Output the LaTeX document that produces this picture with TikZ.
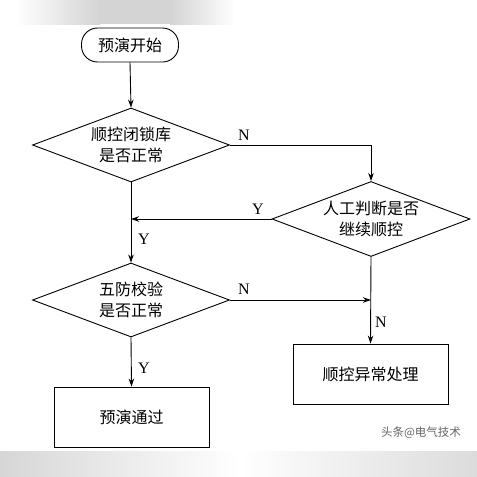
\documentclass[tikz,border=0pt]{standalone}
\usepackage{fontspec}
\setmainfont{Liberation Serif}
\newfontfamily\cjk{Noto Sans CJK SC}
\usetikzlibrary{shapes.geometric,arrows.meta}
\begin{document}
\begin{tikzpicture}[x=1pt,y=-1pt,
  every node/.style={font=\cjk\fontsize{16}{21}\selectfont},
  box/.style={draw,line width=0.9pt,minimum width=155pt,minimum height=60pt,inner sep=0pt},
  decide/.style={draw,line width=0.9pt,diamond,aspect=2.66,inner sep=0pt,minimum width=197pt,minimum height=74pt,align=center},
  startbox/.style={draw,line width=0.9pt,rounded corners=16pt,minimum width=97pt,minimum height=34pt,inner sep=0pt},
  arr/.style={line width=0.9pt,-{Stealth[length=8pt,width=5.5pt]}},
  lbl/.style={font=\fontsize{16}{18}\selectfont,inner sep=0pt}]
\useasboundingbox (0,0) rectangle (477,477);
\fill[white] (0,0) rectangle (477,477);
% scan artifacts
\shade[left color=white,right color=black!17] (15,0) rectangle (100,24);
\fill[black!17] (100,0) rectangle (170,24);
\shade[left color=black!17,right color=white] (170,0) rectangle (235,24);
\shade[left color=black!16,right color=white] (0,451) rectangle (240,477);
\shade[left color=white,right color=black!14] (240,451) rectangle (477,477);

\node[startbox] (s) at (130,45) {预演开始};
\node[decide] (d1) at (131,145) {顺控闭锁库\\是否正常};
\node[decide,minimum width=198pt,minimum height=75pt] (d2) at (371,219) {人工判断是否\\继续顺控};
\node[decide] (d3) at (131,300) {五防校验\\是否正常};
\node[box] (b2) at (370.5,374) {顺控异常处理};
\node[box] (b1) at (131.5,417) {预演通过};

\draw[arr] (s.south) -- (d1.north);
\draw[arr] (d1.east) -| (d2.north);
\draw[arr] (d2.west) -- (d2.west -| d1.south);
\draw[arr] (d1.south) -- (d3.north);
\draw[arr] (d3.east) -- (d3.east -| d2.south);
\draw[arr] (d2.south) -- (b2.north);
\draw[arr] (d3.south) -- (b1.north);

\node[lbl] (n1) at (244,135) {N};
\node[lbl] (y1) at (258,209) {Y};
\node[lbl] (y2) at (144,239) {Y};
\node[lbl] (n2) at (244,289) {N};
\node[lbl] (n3) at (381,322) {N};
\node[lbl] (y3) at (144,368) {Y};

\node[text=black!60,font=\cjk\fontsize{11.5}{12}\selectfont] (wm) at (421,433) {头条@电气技术};
\end{tikzpicture}
\end{document}
